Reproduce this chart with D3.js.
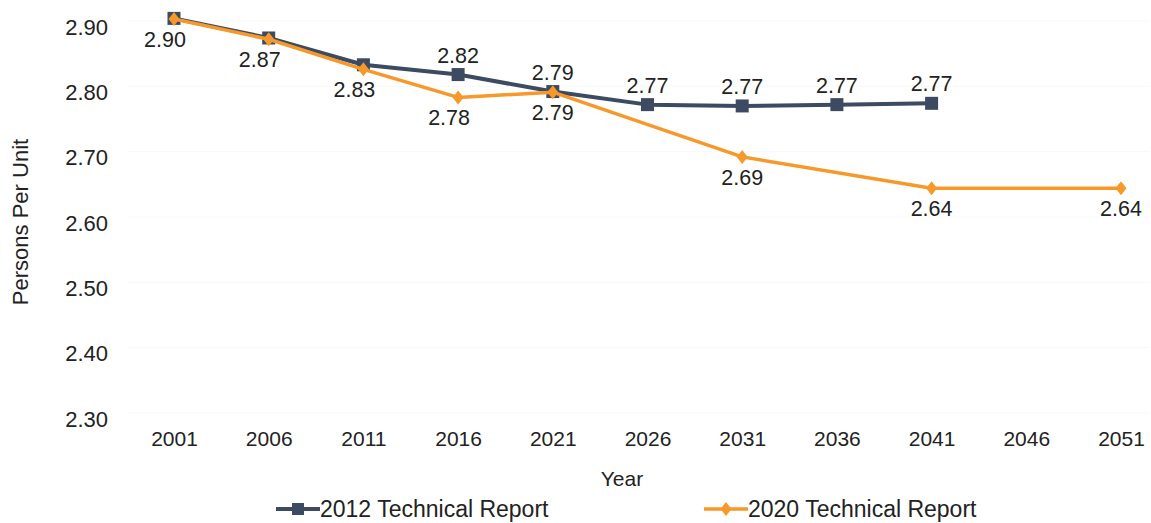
<!DOCTYPE html>
<html>
<head>
<meta charset="utf-8">
<script src="https://cdn.jsdelivr.net/npm/d3@7"></script>
<style>
  html, body { margin: 0; padding: 0; background: #fff; }
  svg { display: block; font-family: "Liberation Sans", Arial, sans-serif; }
</style>
</head>
<body>
<svg id="chart" width="1151" height="523"></svg>
<script>
// Persons per unit, by census/projection year
const years = [2001, 2006, 2011, 2016, 2021, 2026, 2031, 2036, 2041, 2046, 2051];
const yTicks = [2.30, 2.40, 2.50, 2.60, 2.70, 2.80, 2.90];

const report2012Years = [2001, 2006, 2011, 2016, 2021, 2026, 2031, 2036, 2041];
const report2012Values = [2.904, 2.874, 2.833, 2.818, 2.792, 2.772, 2.770, 2.772, 2.774];
// which 2012 points carry a value label
const report2012Labelled = [false, false, false, true, true, true, true, true, true];

const report2020Years = [2001, 2006, 2011, 2016, 2021, 2031, 2041, 2051];
const report2020Values = [2.903, 2.872, 2.826, 2.783, 2.791, 2.692, 2.644, 2.644];
const report2020Labelled = [true, true, true, true, true, true, true, true];

const seriesNames = ["2012 Technical Report", "2020 Technical Report"];

const colBlue = "#3c4a62";
const colOrange = "#f7992a";
const textCol = "#222";

const svg = d3.select("#chart");

const x = d3.scalePoint().domain(years).range([174, 1121]);
const y = d3.scaleLinear().domain([2.30, 2.90]).range([413, 21]);

// very faint horizontal gridlines
svg.append("g").selectAll("line").data(yTicks).join("line")
  .attr("x1", 127).attr("x2", 1150)
  .attr("y1", d => y(d)).attr("y2", d => y(d))
  .attr("stroke", "#f8f8f8").attr("stroke-width", 1);

// y axis (labels only)
const yAxis = svg.append("g").attr("transform", "translate(108,0)")
  .call(d3.axisLeft(y).tickValues(yTicks).tickFormat(d3.format(".2f")).tickSize(0).tickPadding(0));
yAxis.select(".domain").remove();
yAxis.selectAll("text").attr("font-size", 22).attr("fill", textCol)
  .attr("font-family", "Liberation Sans, Arial, sans-serif").attr("dy", "0.6em");

// x axis (labels only)
const xAxis = svg.append("g").attr("transform", "translate(0,431)")
  .call(d3.axisBottom(x).tickSize(0).tickPadding(0));
xAxis.select(".domain").remove();
xAxis.selectAll("text").attr("font-size", 21).attr("fill", textCol)
  .attr("font-family", "Liberation Sans, Arial, sans-serif").attr("dy", "0.7em");

// axis titles
svg.append("text").attr("transform", "translate(28,222) rotate(-90)")
  .attr("text-anchor", "middle").attr("font-size", 22).attr("fill", textCol)
  .text("Persons Per Unit");
svg.append("text").attr("x", 622).attr("y", 486)
  .attr("text-anchor", "middle").attr("font-size", 21).attr("fill", textCol)
  .text("Year");

const line = d3.line().x(d => x(d.year)).y(d => y(d.value));

const s2012 = report2012Years.map((yr, i) => ({ year: yr, value: report2012Values[i], lab: report2012Labelled[i] }));
const s2020 = report2020Years.map((yr, i) => ({ year: yr, value: report2020Values[i], lab: report2020Labelled[i] }));

// 2012 series
svg.append("path").datum(s2012).attr("d", line)
  .attr("fill", "none").attr("stroke", colBlue).attr("stroke-width", 4).attr("stroke-linejoin", "round");
svg.append("g").selectAll("rect").data(s2012).join("rect")
  .attr("x", d => x(d.year) - 6.5).attr("y", d => y(d.value) - 6.5)
  .attr("width", 13).attr("height", 13).attr("fill", colBlue);

// 2020 series
svg.append("path").datum(s2020).attr("d", line)
  .attr("fill", "none").attr("stroke", colOrange).attr("stroke-width", 3.5).attr("stroke-linejoin", "round");
const diamond = "M0,-7L5.5,0L0,7L-5.5,0Z";
svg.append("g").selectAll("path").data(s2020).join("path")
  .attr("transform", d => `translate(${x(d.year)},${y(d.value)})`)
  .attr("d", diamond).attr("fill", colOrange);

// value labels: 2012 above its points, 2020 below
const fmt = d3.format(".2f");
svg.append("g").selectAll("text").data(s2012.filter(d => d.lab)).join("text")
  .attr("x", d => x(d.year)).attr("y", d => y(d.value) - 12)
  .attr("text-anchor", "middle").attr("font-size", 21.5).attr("fill", textCol)
  .text(d => fmt(d.value));
svg.append("g").selectAll("text").data(s2020.filter(d => d.lab)).join("text")
  .attr("x", d => x(d.year) - (d.year <= 2016 ? 9 : 0)).attr("y", d => y(d.value) + 28)
  .attr("text-anchor", "middle").attr("font-size", 21.5).attr("fill", textCol)
  .text(d => fmt(d.value));

// legend
const legend = svg.append("g").attr("transform", "translate(0,509)");
const items = [
  { name: seriesNames[0], color: colBlue, x0: 276, marker: "rect" },
  { name: seriesNames[1], color: colOrange, x0: 704, marker: "diamond" }
];
items.forEach(it => {
  const g = legend.append("g");
  g.append("line").attr("x1", it.x0).attr("x2", it.x0 + 44).attr("y1", 0).attr("y2", 0)
    .attr("stroke", it.color).attr("stroke-width", it.marker === "rect" ? 4 : 3.5);
  if (it.marker === "rect") {
    g.append("rect").attr("x", it.x0 + 22 - 6).attr("y", -6).attr("width", 12).attr("height", 12).attr("fill", it.color);
  } else {
    g.append("path").attr("transform", `translate(${it.x0 + 22},0)`).attr("d", diamond).attr("fill", it.color);
  }
  g.append("text").attr("x", it.x0 + 44).attr("y", 8).attr("font-size", 23).attr("fill", textCol).text(it.name);
});
</script>
</body>
</html>
